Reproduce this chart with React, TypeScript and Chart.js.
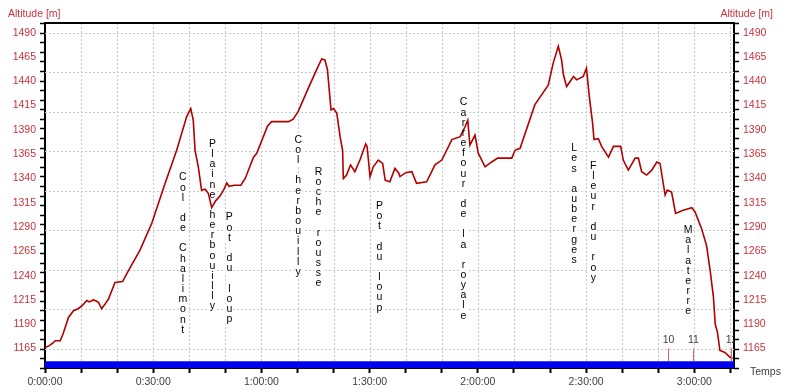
import React, { useEffect, useRef } from 'react';
import { Chart, registerables } from 'chart.js';

Chart.register(...registerables);

// elapsed time in minutes
const timeMin = [
  0, 1.2, 2.3, 2.8, 4.2, 5.0, 6.5, 7.9, 9.2, 10.5, 11.6, 12.3, 13.4, 14.2, 14.8, 15.7, 16.5, 17.6, 19.4, 21.5,
  23.1, 26.3, 29.6, 33.3, 36.5, 39.3, 40.4, 41.1, 41.6, 42.5, 43.4, 44.4, 45.3, 46.2, 47.3, 48.5, 49.5, 50.4,
  51.0, 52.5, 54.3, 55.5, 57.8, 58.7, 61.7, 62.8, 65.2, 67.5, 68.8, 70.2, 73.0, 75.3, 76.7, 77.6, 78.3, 78.8,
  79.3, 80.0, 80.9, 81.8, 82.5, 82.7, 83.6, 84.7, 85.9, 87.3, 88.9, 89.3, 90.1, 91.0, 92.4, 93.6, 94.3, 95.6,
  97.0, 98.0, 98.4, 100.0, 101.7, 103.0, 105.8, 108.1, 110.0, 112.8, 115.1, 116.4, 117.2, 117.8, 119.2, 120.1,
  122.0, 123.8, 125.5, 129.4, 130.3, 131.7, 135.8, 139.5, 140.9, 142.3, 143.2, 143.7, 144.6, 146.5, 147.4,
  149.2, 150.1, 150.9, 151.8, 152.2, 153.4, 154.3, 156.2, 157.6, 159.6, 160.3, 161.7, 163.6, 164.5, 165.4,
  166.8, 168.2, 169.6, 170.5, 171.9, 172.5, 173.7, 174.8, 176.9, 179.3, 180.2, 182.0, 183.4, 184.4, 185.3,
  185.8, 186.4, 187.1, 188.5, 189.9, 190.6,
];

// altitude in metres
const altitude = [
  1166, 1168, 1171, 1173, 1173, 1180, 1197, 1204, 1206, 1210, 1214.5, 1213, 1215, 1214, 1212.7, 1206, 1210, 1216, 1233, 1234,
  1245, 1266, 1294, 1335, 1369, 1404, 1412, 1400, 1369, 1352, 1328, 1329, 1324.5, 1310, 1317, 1322, 1328, 1335.5,
  1332, 1333, 1333, 1340, 1362, 1366, 1394, 1398.5, 1398.5, 1398.5, 1401, 1409, 1433, 1452, 1463, 1462, 1452, 1431,
  1410.5, 1412, 1407, 1383, 1369, 1340, 1343.5, 1354, 1347, 1359, 1375.5, 1372.7, 1341.7, 1352, 1359, 1355.5, 1338.3, 1336.6,
  1350.4, 1346, 1342, 1346, 1347, 1335, 1336.6, 1354, 1359, 1380, 1383, 1393, 1400, 1374.4, 1384.7, 1366,
  1352, 1357, 1361, 1361, 1369, 1371, 1416, 1436, 1459, 1476, 1462, 1447, 1434.6, 1445, 1441.5,
  1445, 1453.5, 1424, 1397, 1380, 1381, 1373, 1362, 1373, 1373, 1359, 1348.6, 1361, 1361, 1347,
  1343.5, 1348.6, 1357, 1355.5, 1323, 1328, 1326, 1304, 1307.4, 1310, 1305.6, 1288.5, 1271, 1245, 1218,
  1190, 1182, 1163, 1161, 1156, 1155,
];

// blue band along the bottom
const bandTimes = [0, 191];
const bandLevel = [1152, 1152];

const yMin = 1145;
const yMax = 1500;
const xMax = 191;

const yTickValues = [1165, 1190, 1215, 1240, 1265, 1290, 1315, 1340, 1365, 1390, 1415, 1440, 1465, 1490];
const xTickMinutes = [0, 10, 20, 30, 40, 50, 60, 70, 80, 90, 100, 110, 120, 130, 140, 150, 160, 170, 180, 190];
const xLabelEvery = 30;

const waypointNames = [
  'Col de Chalimont', 'Plaine herbouilly', 'Pot du loup', 'Col herbouilly', 'Roche rousse',
  'Pot du loup', 'Carrefour de la royale', 'Les auberges', 'Fleur du roy', 'Malaterre',
];
const waypointTimes = [38.2, 46.4, 51.1, 70.2, 75.8, 92.7, 116.0, 146.7, 152.0, 178.3];
const waypointTopAlt = [1341, 1375.4, 1299.8, 1379.6, 1346.9, 1311.5, 1418.1, 1371, 1352.7, 1286.7];

const markerNames = ['10', '11', '12'];
const markerTimes = [172.6, 179.5, 190.2];
const markerTopAlt = 1165;

const axisTitle = 'Altitude [m]';
const xTitle = 'Temps';

const FONT = "'Liberation Sans', Arial, sans-serif";
const RED = '#c8323c';
const GREY_TEXT = '#404040';

function fmtTime(m: number) {
  const h = Math.floor(m / 60);
  const mm = Math.round(m % 60);
  return `${h}:${String(mm).padStart(2, '0')}:00`;
}

const decor = {
  id: 'decor',
  beforeDatasetsDraw(chart: any) {
    const { ctx, chartArea: ca, scales } = chart;
    const xs = scales.x;
    const ys = scales.y;
    ctx.save();
    ctx.strokeStyle = '#c8c8c8';
    ctx.lineWidth = 1;
    ctx.setLineDash([2, 2]);
    const lo = yTickValues[0];
    const hi = yTickValues[yTickValues.length - 1];
    for (let k = 0; k <= 8; k++) {
      const py = Math.round(ys.getPixelForValue(lo + (k * (hi - lo)) / 8)) + 0.5;
      ctx.beginPath();
      ctx.moveTo(ca.left, py);
      ctx.lineTo(ca.right, py);
      ctx.stroke();
    }
    for (let i = 1; i < xTickMinutes.length; i++) {
      const px = Math.round(xs.getPixelForValue(xTickMinutes[i])) + 0.5;
      ctx.beginPath();
      ctx.moveTo(px, ca.top);
      ctx.lineTo(px, ca.bottom);
      ctx.stroke();
    }
    ctx.setLineDash([]);
    // white boxes behind waypoint letters
    ctx.fillStyle = '#ffffff';
    waypointNames.forEach((name, i) => {
      const px = xs.getPixelForValue(waypointTimes[i]);
      const py0 = ys.getPixelForValue(waypointTopAlt[i]);
      for (let j = 0; j < name.length; j++) {
        if (name[j] === ' ') continue;
        ctx.fillRect(px - 4, py0 + j * 10.15 - 5, 8, 10);
      }
    });
    ctx.restore();
  },
  afterDatasetsDraw(chart: any) {
    const { ctx, chartArea: ca, scales } = chart;
    const xs = scales.x;
    const ys = scales.y;
    ctx.save();
    // waypoint names, one letter per line
    ctx.fillStyle = '#000';
    ctx.font = `10.5px ${FONT}`;
    ctx.textAlign = 'center';
    ctx.textBaseline = 'middle';
    waypointNames.forEach((name, i) => {
      const px = xs.getPixelForValue(waypointTimes[i]);
      const py0 = ys.getPixelForValue(waypointTopAlt[i]);
      for (let j = 0; j < name.length; j++) {
        if (name[j] === ' ') continue;
        ctx.fillText(name[j], px, py0 + j * 10.15);
      }
    });
    // lap markers
    ctx.save();
    ctx.beginPath();
    ctx.rect(ca.left, ca.top, ca.right - ca.left, ca.bottom - ca.top);
    ctx.clip();
    markerNames.forEach((name, i) => {
      const px = Math.round(xs.getPixelForValue(markerTimes[i])) + 0.5;
      const top = ys.getPixelForValue(markerTopAlt);
      const bot = ys.getPixelForValue(bandLevel[0]);
      ctx.strokeStyle = '#e06464';
      ctx.lineWidth = 1;
      ctx.beginPath();
      ctx.moveTo(px, top);
      ctx.lineTo(px, bot);
      ctx.stroke();
      ctx.fillStyle = GREY_TEXT;
      ctx.fillText(name, px, top - 8);
    });
    ctx.restore();
    // top frame
    ctx.strokeStyle = '#000';
    ctx.lineWidth = 2;
    ctx.beginPath();
    ctx.moveTo(ca.left - 1, ca.top);
    ctx.lineTo(ca.right + 1, ca.top);
    ctx.stroke();
    // minor ticks on both y axes
    ctx.lineWidth = 1.5;
    for (let k = 0; k <= 36; k++) {
      const py = Math.round(ys.getPixelForValue(yMin + (k * (yMax - yMin)) / 36)) + 0.5;
      ctx.beginPath();
      ctx.moveTo(ca.left - 5, py);
      ctx.lineTo(ca.left, py);
      ctx.moveTo(ca.right, py);
      ctx.lineTo(ca.right + 5, py);
      ctx.stroke();
    }
    // titles
    ctx.font = `10.5px ${FONT}`;
    ctx.fillStyle = RED;
    ctx.textBaseline = 'middle';
    ctx.textAlign = 'left';
    ctx.fillText(axisTitle, 8, ca.top - 9);
    ctx.textAlign = 'right';
    ctx.fillText(axisTitle, chart.width - 27, ca.top - 9);
    ctx.fillStyle = GREY_TEXT;
    ctx.textAlign = 'left';
    ctx.fillText(xTitle, ca.right + 16, ca.bottom + 4);
    ctx.restore();
  },
};

export default function App() {
  const ref = useRef<HTMLCanvasElement>(null);
  useEffect(() => {
    document.body.style.margin = '0';
    const canvas = ref.current!;
    const yAxis = (position: string, width: number) => ({
      type: 'linear',
      position,
      min: yMin,
      max: yMax,
      afterBuildTicks: (s: any) => {
        s.ticks = yTickValues.map((v) => ({ value: v }));
      },
      afterFit: (s: any) => {
        s.width = width;
      },
      grid: { display: false, drawTicks: false, drawOnChartArea: false },
      border: { display: true, color: '#000', width: 2 },
      ticks: {
        color: RED,
        font: { family: FONT, size: 10.5 },
        padding: 9,
        autoSkip: false,
        callback: (v: any) => String(v),
      },
    });
    const chart = new Chart(canvas, {
      type: 'line',
      data: {
        datasets: [
          {
            data: timeMin.map((t, i) => ({ x: t, y: altitude[i] })),
            borderColor: '#b00000',
            borderWidth: 1.6,
            pointRadius: 0,
            tension: 0,
            fill: false,
          },
          {
            data: bandTimes.map((t, i) => ({ x: t, y: bandLevel[i] })),
            borderColor: '#0000f0',
            backgroundColor: '#0000f0',
            borderWidth: 0,
            pointRadius: 0,
            fill: 'start',
          },
        ],
      },
      options: {
        animation: false,
        responsive: true,
        maintainAspectRatio: false,
        layout: { padding: { top: 23, left: 0, right: 0, bottom: 0 } },
        plugins: { legend: { display: false }, tooltip: { enabled: false } },
        scales: {
          x: {
            type: 'linear',
            min: 0,
            max: xMax,
            afterBuildTicks: (s: any) => {
              s.ticks = xTickMinutes.map((v) => ({ value: v }));
            },
            afterFit: (s: any) => {
              s.height = 24;
            },
            grid: { display: true, drawOnChartArea: false, drawTicks: true, tickLength: 5, color: '#000', tickWidth: 2 },
            border: { display: true, color: '#000', width: 2 },
            ticks: {
              color: GREY_TEXT,
              font: { family: FONT, size: 10.5 },
              padding: 3,
              autoSkip: false,
              maxRotation: 0,
              minRotation: 0,
              callback: (v: any) => (Number(v) % xLabelEvery === 0 ? fmtTime(Number(v)) : ''),
            },
          },
          y: yAxis('left', 45) as any,
          y2: yAxis('right', 66) as any,
        },
      },
      plugins: [decor],
    } as any);
    return () => chart.destroy();
  }, []);
  return (
    <div style={{ position: 'absolute', left: 0, top: 0, width: 800, height: 392, background: '#fff' }}>
      <canvas ref={ref} />
    </div>
  );
}
